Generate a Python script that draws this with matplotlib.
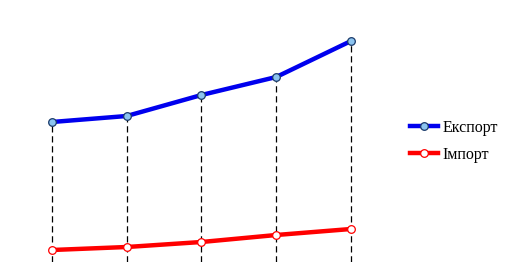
import matplotlib.pyplot as plt

# === Дані ===
periods = [1, 2, 3, 4, 5]
export_vals = [140, 146, 167, 185, 221]
import_vals = [12, 15, 20, 27, 33]

fig = plt.figure(figsize=(5.1, 2.78), dpi=100)
ax = fig.add_axes([0, 16 / 278, 1, 262 / 278])
ax.set_xlim(1 - 52 / 74.75, 1 + 458 / 74.75)
ax.set_ylim(0, 262)
ax.axis("off")

# пунктирні опускні лінії
ax.vlines(periods, 0, export_vals, colors="black", linewidth=0.9, linestyles=(0, (5, 3)), zorder=1)

ax.plot(periods, export_vals, color="#0000ee", linewidth=3.2, marker="o", markersize=5.5,
        markerfacecolor="#8cc4f0", markeredgecolor="#1a3a6a", markeredgewidth=0.9,
        label="Експорт", zorder=3)
ax.plot(periods, import_vals, color="#ff0000", linewidth=3.2, marker="o", markersize=5.5,
        markerfacecolor="white", markeredgecolor="#ff0000", markeredgewidth=0.9,
        label="Імпорт", zorder=3)

ax.legend(loc="center left", bbox_to_anchor=(0.775, 0.46), frameon=False,
          prop={"family": "Liberation Serif", "size": 11.5}, handlelength=1.75,
          handletextpad=0.3, labelspacing=0.7)

fig.savefig("out.png", dpi=100)
